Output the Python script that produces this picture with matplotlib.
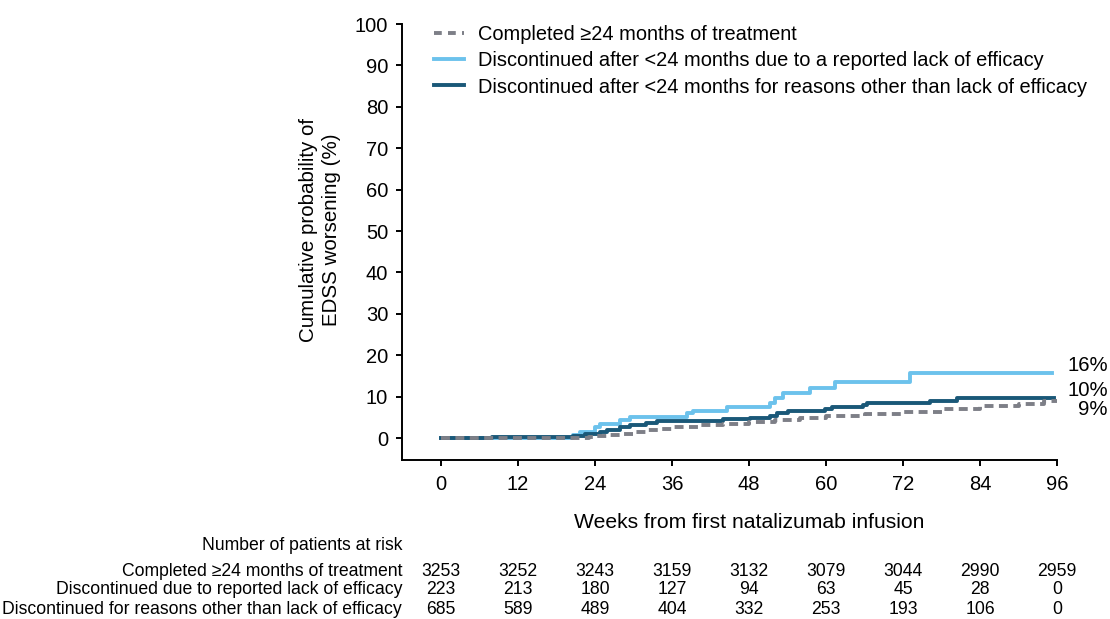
import matplotlib
matplotlib.use("Agg")
import matplotlib.pyplot as plt
from matplotlib.lines import Line2D

plt.rcParams['font.family'] = ['Liberation Sans', 'DejaVu Sans']

# Kaplan-Meier style cumulative probability curves (weeks, %)
completed_weeks = [0, 21, 23, 24, 26, 28, 30, 32, 34, 36, 40, 44, 48, 52, 56, 60, 66, 72, 78, 84, 90, 94, 96]
completed_pct = [0, 0.1, 0.3, 0.5, 0.8, 1.1, 1.5, 1.9, 2.3, 2.7, 3.2, 3.5, 3.9, 4.3, 4.8, 5.3, 5.8, 6.4, 7.0, 7.7, 8.3, 8.9, 8.9]

efficacy_weeks = [0, 20.6, 21.7, 24.0, 24.8, 27.9, 29.5, 38.3, 39.3, 44.5, 51.3, 52.0, 53.3, 57.5, 61.4, 73.1, 95.2]
efficacy_pct = [0, 0.7, 1.5, 2.7, 3.4, 4.3, 5.0, 6.0, 6.5, 7.4, 8.4, 9.6, 10.9, 12.2, 13.6, 15.6, 15.6]

other_weeks = [0, 8, 20.5, 22.4, 24.8, 25.8, 27.9, 29.5, 32.0, 33.6, 38.5, 44.0, 48.2, 51.3, 52.3,
               54.1, 59.8, 60.9, 65.8, 66.4, 76.2, 80.4, 95.6]
other_pct = [0, 0.3, 0.5, 1.0, 1.5, 1.9, 2.6, 3.1, 3.7, 4.0, 4.2, 4.5, 4.9, 5.3, 6.0,
             6.6, 6.9, 7.4, 8.0, 8.4, 8.9, 9.6, 9.6]

end_labels = ["16%", "10%", "9%"]
end_label_y = [17.6, 11.6, 7.0]

legend_labels = [
    "Completed \u226524 months of treatment",
    "Discontinued after <24 months due to a reported lack of efficacy",
    "Discontinued after <24 months for reasons other than lack of efficacy",
]

risk_weeks = [0, 12, 24, 36, 48, 60, 72, 84, 96]
risk_row_labels = [
    "Completed \u226524 months of treatment",
    "Discontinued due to reported lack of efficacy",
    "Discontinued for reasons other than lack of efficacy",
]
risk_completed = [3253, 3252, 3243, 3159, 3132, 3079, 3044, 2990, 2959]
risk_efficacy = [223, 213, 180, 127, 94, 63, 45, 28, 0]
risk_other = [685, 589, 489, 404, 332, 253, 193, 106, 0]

c_gray = "#7d7f87"
c_light = "#6cc2ec"
c_dark = "#1a5878"

W, H = 1110, 619
fig = plt.figure(figsize=(W / 100, H / 100), dpi=100)
ax = fig.add_axes([402 / W, 1 - 460 / H, (1057 - 402) / W, (460 - 24) / H])

ax.step(efficacy_weeks, efficacy_pct, where='post', color=c_light, lw=2.8, zorder=2)
ax.step(other_weeks, other_pct, where='post', color=c_dark, lw=2.8, zorder=3)
ax.step(completed_weeks, completed_pct, where='post', color=c_gray, lw=2.8,
        dashes=(2.3, 1.4), zorder=4)

ax.set_xlim(-6.1, 96)
ax.set_ylim(-5.3, 100)
ax.set_xticks(risk_weeks)
ax.set_yticks(range(0, 101, 10))
for s in ("top", "right"):
    ax.spines[s].set_visible(False)
for s in ("left", "bottom"):
    ax.spines[s].set_linewidth(1.4)
ax.tick_params(axis='both', labelsize=14.5, width=1.4, length=4.5, direction='out')
ax.tick_params(axis='y', pad=5.5)
ax.tick_params(axis='x', pad=6)

fig.text(320 / W, 1 - 230 / H, "Cumulative probability of\nEDSS worsening (%)",
         rotation=90, ha='center', va='center', fontsize=14.8, linespacing=1.3)
ax.text(48, -20.3, "Weeks from first natalizumab infusion", ha='center', va='center',
        fontsize=15.2)

for lab, y in zip(end_labels, end_label_y):
    ax.text(103.9, y, lab, ha='right', va='center', fontsize=14.6, clip_on=False)

handles = [
    Line2D([], [], color=c_gray, lw=2.8, dashes=(2.0, 1.6)),
    Line2D([], [], color=c_light, lw=2.8),
    Line2D([], [], color=c_dark, lw=2.8),
]
ax.legend(handles, legend_labels, loc='upper left', bbox_to_anchor=(0.021, 1.039),
          frameon=False, fontsize=14.45, handlelength=1.5, handletextpad=0.72,
          labelspacing=0.36)

# Number at risk table
fx = lambda wk: (441 + wk * 6.417) / W
fy = lambda py: 1 - py / H
fig.text(402 / W, fy(545), "Number of patients at risk", ha='right', va='center', fontsize=12.7)
rows = [risk_completed, risk_efficacy, risk_other]
row_y = [571, 590, 609]
for lab, vals, py in zip(risk_row_labels, rows, row_y):
    fig.text(402 / W, fy(py), lab, ha='right', va='center', fontsize=12.7)
    for wk, v in zip(risk_weeks, vals):
        fig.text(fx(wk), fy(py), str(v), ha='center', va='center', fontsize=12.7)

fig.savefig("out.png", dpi=100)
